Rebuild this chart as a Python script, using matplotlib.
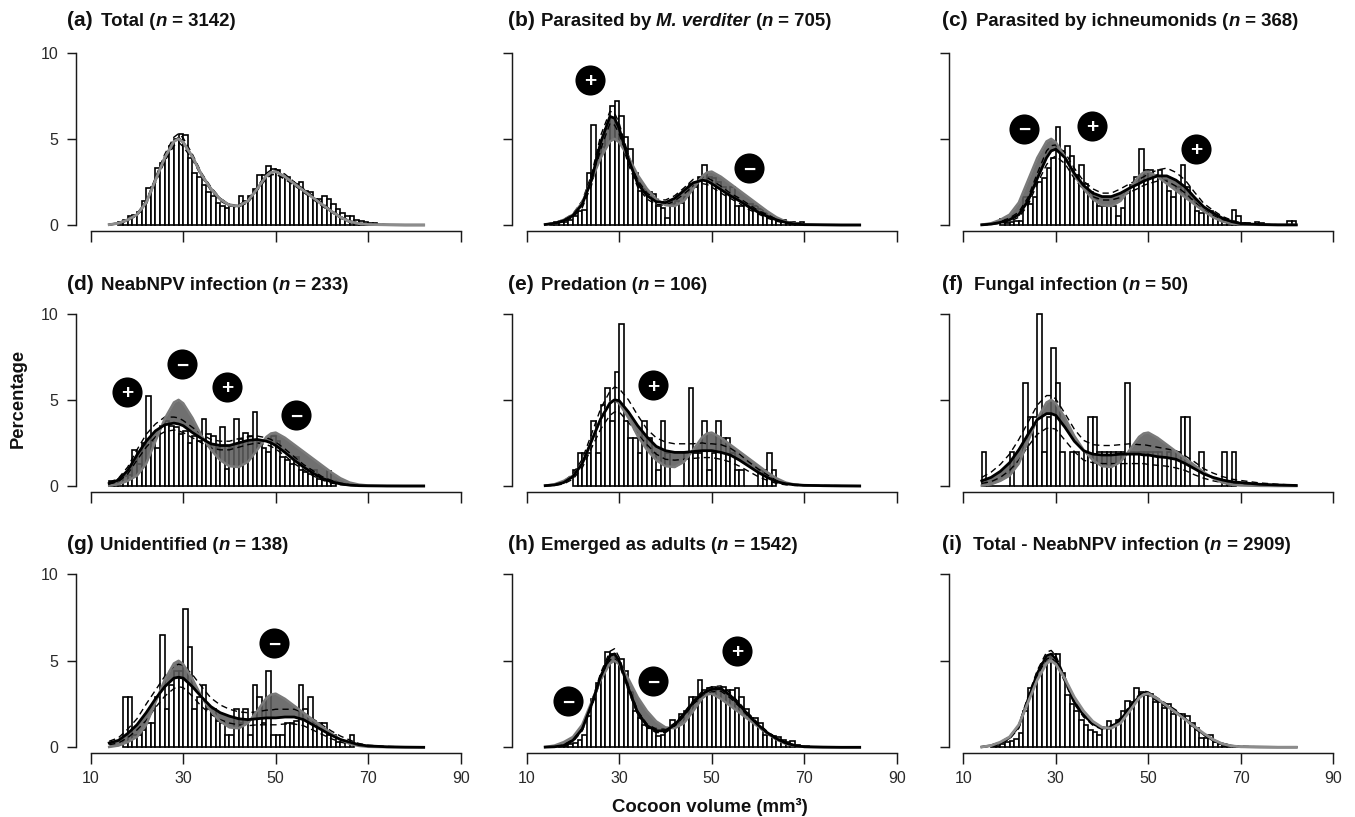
import numpy as np
import matplotlib
matplotlib.use("Agg")
import matplotlib.pyplot as plt

plt.rcParams['font.family'] = ['Liberation Sans', 'DejaVu Sans']

W, H = 1355, 817
volume_grid = [14,16,18,20,22,24,26,28,29,30,32,34,36,38,40,42,44,46,48,49,50,52,54,56,58,60,62,64,66,68,70,74,78,82]

total_curve = [.02,.1,.3,.6,1.3,2.6,3.9,4.85,5.0,4.8,3.95,2.9,2.1,1.5,1.15,1.1,1.4,2.1,2.85,3.05,3.1,2.8,2.4,2.0,1.6,1.2,.8,.45,.2,.08,.03,.01,0,0]

# histogram values: first bin's left edge, then heights of 1-mm3 bins
first_a = 16
hist_a = [.2,.3,.5,.6,.75,1.4,2.15,2.2,3.3,3.6,4.0,4.6,5.0,5.3,5.2,3.9,3.0,2.8,2.3,1.9,1.7,1.3,1.1,1.0,1.1,1.1,1.7,1.4,1.7,2.1,2.9,2.9,3.4,3.25,3.2,2.8,2.8,2.5,2.4,2.5,2.0,1.9,1.5,1.5,1.7,1.5,1.2,.9,.7,.5,.55,.3,.25,.15,.12,.1]
first_b = 15
hist_b = [.05,.15,.15,.15,.3,.55,.8,.85,3.0,5.8,3.8,4.5,5.6,6.9,7.2,6.3,5.1,4.4,3.0,2.0,2.1,1.9,1.8,1.1,1.0,.4,1.2,1.4,1.3,1.6,2.4,2.2,2.8,3.5,2.8,2.7,2.5,2.2,1.8,2.2,1.1,1.1,1.2,1.2,1.1,.9,.7,.55,.4,.3,.3,.15,.2,.1,.2]
first_c = 18
hist_c = [.35,.1,.15,.25,.25,1.6,1.2,1.6,2.5,2.7,3.3,3.9,5.7,4.3,4.6,4.0,2.9,3.5,2.4,1.9,1.5,1.1,1.1,1.1,1.1,.5,1.0,2.0,2.3,2.8,4.4,3.2,3.2,2.9,3.2,2.6,2.0,1.6,2.2,3.5,2.2,1.5,.8,.7,.8,.8,.5,.4,.2,.1,.85,.5,.1,.1,0,.15,.1,0,0,0,0,0,.25,.25]
first_d = 14
hist_d = [.3,.3,.4,.6,.65,2.1,1.3,2.5,5.2,2.6,2.2,3.5,3.8,3.5,3.4,3.0,3.2,2.5,2.9,2.6,3.9,3.0,2.9,2.2,3.4,1.0,2.2,3.9,2.7,3.1,2.9,4.3,2.5,2.2,2.0,2.9,2.6,1.7,1.5,1.3,1.7,.9,.8,.7,.9,.4,.4,.85,.3]
first_e = 20
hist_e = [.95,1.9,1.9,1.9,3.8,1.9,4.7,5.7,3.8,6.6,9.4,3.8,2.8,2.8,1.9,3.8,2.8,1.9,.95,3.8,1.9,0,0,0,1.9,5.7,1.9,1.9,3.8,.95,1.9,3.8,2.8,2.8,1.9,.95,.95,0,0,0,.95,.95,1.9,.95]
first_f = 14
hist_f = [2,0,0,0,0,0,2,0,0,6,4,4,10,2,4,8,6,2,0,2,2,0,2,4,4,2,2,2,2,2,2,6,2,2,2,2,2,2,2,0,2,0,2,4,4,0,0,2,0,0,0,0,2,0,2]
first_g = 17
hist_g = [2.9,2.9,.7,.7,1.0,1.4,1.4,2.9,6.5,2.2,3.6,4.4,4.4,8.0,5.8,2.2,2.9,3.6,2.2,2.2,1.5,1.4,.7,.7,2.2,1.4,2.2,.7,3.6,2.9,1.4,4.4,.7,.7,.7,1.4,1.4,1.5,3.6,2.2,2.9,1.4,1.4,1.4,.7,.7,.3,.3,0,.7]
first_h = 17
hist_h = [.05,.1,.2,.25,.4,.7,1.8,2.8,3.7,4.2,5.5,5.4,5.1,5.1,4.4,3.2,2.1,1.7,1.3,1.1,1.1,.65,.7,1.0,1.6,1.2,1.9,2.1,2.9,2.9,3.9,3.3,3.4,3.5,3.4,3.5,3.3,3.3,3.4,2.9,2.2,1.7,1.7,1.4,.7,.7,.65,.6,.4,.3,.35,.15,.1,.05]
first_i = 16
hist_i = [.05,.1,.2,.3,.35,.5,.8,2.1,3.4,3.6,4.2,4.9,5.2,5.4,5.4,4.3,3.0,2.5,2.1,1.6,1.3,1.0,.9,.7,1.1,1.5,1.3,1.6,2.1,2.7,2.6,3.4,3.2,3.0,3.1,2.6,2.6,2.3,2.5,1.9,1.9,1.9,1.8,1.4,1.1,.55,.55,.7,.3,.2,.1,.05,.03]

# fitted curves (mean, upper, lower)
a_mean = [.02,.1,.3,.6,1.3,2.6,3.9,4.85,5.05,4.8,3.95,2.9,2.1,1.5,1.15,1.1,1.4,2.1,2.85,3.05,3.1,2.8,2.4,2.0,1.6,1.2,.8,.45,.2,.08,.03,.01,0,0]
a_hi = [.03,.12,.35,.65,1.4,2.75,4.1,5.1,5.3,5.05,4.1,3.0,2.2,1.55,1.2,1.15,1.5,2.2,3.0,3.2,3.25,2.95,2.5,2.1,1.7,1.3,.85,.5,.25,.1,.05,.02,.01,.01]
a_lo = [.01,.08,.25,.55,1.2,2.45,3.7,4.6,4.8,4.55,3.8,2.8,2.0,1.4,1.1,1.05,1.3,2.0,2.7,2.9,2.95,2.65,2.3,1.9,1.5,1.1,.75,.4,.15,.06,.02,0,0,0]
b_mean = [.03,.1,.25,.55,1.2,2.6,4.8,6.3,6.2,5.6,3.8,2.4,1.7,1.35,1.3,1.55,2.0,2.45,2.6,2.55,2.4,2.05,1.7,1.4,1.05,.75,.5,.3,.15,.05,.02,.01,0,0]
b_hi = [.05,.13,.32,.65,1.4,2.9,5.2,6.6,6.5,5.9,4.05,2.6,1.85,1.5,1.45,1.7,2.15,2.65,2.8,2.75,2.6,2.25,1.85,1.55,1.2,.85,.6,.35,.18,.07,.03,.01,.01,0]
b_lo = [.01,.07,.18,.45,1.0,2.3,4.4,5.9,5.8,5.3,3.5,2.2,1.5,1.2,1.15,1.4,1.8,2.25,2.4,2.35,2.2,1.85,1.55,1.25,.9,.65,.4,.22,.1,.03,.01,0,0,0]
c_mean = [.01,.05,.15,.3,.6,1.4,2.7,3.9,4.3,4.4,3.9,3.0,2.3,1.85,1.65,1.65,1.85,2.15,2.4,2.55,2.65,2.85,2.85,2.6,2.2,1.6,1.05,.7,.4,.2,.08,.03,.01,.01]
c_hi = [.02,.08,.2,.4,.75,1.6,3.0,4.3,4.6,4.65,4.2,3.3,2.55,2.1,1.85,1.85,2.1,2.4,2.65,2.8,2.95,3.2,3.3,3.05,2.6,1.9,1.25,.85,.5,.28,.12,.05,.02,.02]
c_lo = [0,.03,.1,.2,.45,1.15,2.4,3.5,3.85,4.0,3.55,2.7,2.05,1.65,1.45,1.45,1.6,1.9,2.15,2.3,2.4,2.55,2.55,2.25,1.85,1.35,.85,.55,.3,.13,.05,.02,0,0]
d_mean = [.15,.35,.9,1.8,2.6,3.2,3.55,3.65,3.6,3.5,3.1,2.75,2.45,2.35,2.35,2.5,2.65,2.7,2.6,2.5,2.35,1.95,1.5,1.1,.75,.45,.25,.12,.05,.02,.01,0,0,0]
d_hi = [.2,.45,1.1,2.1,3.0,3.6,4.0,4.0,3.95,3.8,3.4,3.0,2.7,2.6,2.6,2.75,2.85,2.9,2.8,2.7,2.55,2.15,1.7,1.25,.9,.55,.33,.17,.08,.03,.01,0,0,0]
d_lo = [.1,.25,.7,1.5,2.25,2.85,3.15,3.25,3.2,3.1,2.8,2.5,2.2,2.1,2.1,2.25,2.4,2.5,2.4,2.3,2.15,1.75,1.3,.95,.6,.35,.17,.08,.03,.01,0,0,0,0]
e_mean = [.02,.06,.2,.55,1.3,2.6,3.9,4.8,5.0,4.95,4.3,3.5,2.85,2.3,2.05,1.95,1.95,2.0,2.05,2.05,2.05,1.95,1.8,1.5,1.15,.8,.5,.25,.13,.07,.04,.02,.01,0]
e_hi = [.04,.1,.28,.7,1.55,3.0,4.5,5.5,5.75,5.65,5.0,4.1,3.3,2.8,2.55,2.45,2.45,2.45,2.5,2.45,2.45,2.4,2.2,1.85,1.4,1.0,.65,.35,.2,.1,.06,.03,.02,.01]
e_lo = [.01,.03,.12,.4,1.05,2.2,3.3,4.1,4.3,4.3,3.7,3.0,2.4,1.85,1.55,1.5,1.55,1.6,1.65,1.65,1.65,1.55,1.4,1.15,.85,.55,.33,.15,.07,.03,.02,.01,0,0]
f_mean = [.3,.5,.85,1.35,2.1,3.0,3.85,4.2,4.2,4.1,3.4,2.6,2.05,1.85,1.8,1.8,1.85,1.85,1.85,1.8,1.8,1.7,1.65,1.55,1.3,1.0,.7,.5,.35,.25,.2,.1,.06,.03]
f_hi = [.5,.8,1.25,1.85,2.7,3.7,4.7,5.25,5.25,5.05,4.2,3.3,2.65,2.4,2.35,2.35,2.4,2.45,2.4,2.4,2.35,2.25,2.15,2.05,1.75,1.4,1.0,.75,.55,.4,.32,.18,.1,.05]
f_lo = [.15,.25,.5,.9,1.5,2.3,3.0,3.35,3.35,3.3,2.65,2.0,1.5,1.35,1.3,1.3,1.3,1.3,1.3,1.3,1.25,1.2,1.15,1.05,.9,.65,.45,.3,.2,.13,.1,.05,.03,.01]
g_mean = [.25,.4,.8,1.3,2.0,2.8,3.5,4.0,4.05,4.0,3.5,2.9,2.35,2.0,1.8,1.65,1.6,1.65,1.7,1.7,1.7,1.75,1.75,1.6,1.3,1.0,.7,.45,.3,.15,.08,.03,.01,0]
g_hi = [.35,.55,1.05,1.65,2.5,3.3,4.1,4.7,4.8,4.75,4.2,3.5,2.85,2.45,2.2,2.05,2.0,2.05,2.15,2.15,2.2,2.2,2.2,2.0,1.65,1.3,.95,.65,.42,.22,.12,.05,.02,.01]
g_lo = [.15,.25,.55,1.0,1.55,2.3,2.95,3.4,3.5,3.45,2.95,2.35,1.9,1.6,1.4,1.3,1.25,1.3,1.3,1.3,1.3,1.35,1.35,1.25,1.0,.75,.5,.3,.18,.08,.04,.01,0,0]
h_mean = [.01,.03,.1,.4,1.05,2.45,4.1,5.3,5.4,5.0,3.4,2.0,1.25,.95,.95,1.3,1.9,2.6,3.1,3.25,3.35,3.4,3.0,2.45,1.85,1.3,.85,.5,.25,.1,.03,.01,0,0]
h_hi = [.02,.05,.14,.45,1.15,2.6,4.3,5.55,5.7,5.2,3.55,2.1,1.35,1.05,1.05,1.4,2.0,2.7,3.25,3.4,3.5,3.55,3.15,2.55,1.95,1.4,.92,.55,.3,.13,.05,.02,0,0]
h_lo = [0,.02,.07,.32,.95,2.3,3.9,5.05,5.15,4.8,3.25,1.9,1.15,.85,.85,1.2,1.8,2.5,2.95,3.1,3.2,3.25,2.85,2.35,1.75,1.2,.78,.45,.2,.07,.02,0,0,0]
i_mean = [.02,.1,.25,.55,1.2,2.8,4.3,5.3,5.4,5.1,3.9,2.6,1.85,1.35,1.1,1.15,1.6,2.3,2.95,3.15,3.1,2.75,2.4,2.05,1.65,1.15,.75,.4,.2,.08,.03,.02,.01,.01]
i_hi = [.03,.13,.3,.62,1.3,2.95,4.45,5.5,5.6,5.3,4.05,2.7,1.95,1.42,1.17,1.22,1.7,2.4,3.05,3.25,3.2,2.85,2.5,2.15,1.72,1.22,.8,.45,.24,.1,.05,.03,.02,.02]
i_lo = [.01,.07,.2,.48,1.1,2.65,4.15,5.1,5.2,4.9,3.75,2.5,1.75,1.28,1.03,1.08,1.5,2.2,2.85,3.05,3.0,2.65,2.3,1.95,1.58,1.08,.7,.35,.16,.06,.01,.01,0,0]

panel_tags = ['(a)','(b)','(c)','(d)','(e)','(f)','(g)','(h)','(i)']
panel_titles = [
    [('Total (','normal'),('n','italic'),(' = 3142)','normal')],
    [('Parasited by ','normal'),('M. verditer','italic'),(' (','normal'),('n','italic'),(' = 705)','normal')],
    [('Parasited by ichneumonids (','normal'),('n','italic'),(' = 368)','normal')],
    [('NeabNPV infection (','normal'),('n','italic'),(' = 233)','normal')],
    [('Predation (','normal'),('n','italic'),(' = 106)','normal')],
    [('Fungal infection (','normal'),('n','italic'),(' = 50)','normal')],
    [('Unidentified (','normal'),('n','italic'),(' = 138)','normal')],
    [('Emerged as adults (','normal'),('n','italic'),(' = 1542)','normal')],
    [('Total - NeabNPV infection (','normal'),('n','italic'),(' = 2909)','normal')],
]
first_bins = [first_a,first_b,first_c,first_d,first_e,first_f,first_g,first_h,first_i]
hists = [hist_a,hist_b,hist_c,hist_d,hist_e,hist_f,hist_g,hist_h,hist_i]
means = [a_mean,b_mean,c_mean,d_mean,e_mean,f_mean,g_mean,h_mean,i_mean]
highs = [a_hi,b_hi,c_hi,d_hi,e_hi,f_hi,g_hi,h_hi,i_hi]
lows = [a_lo,b_lo,c_lo,d_lo,e_lo,f_lo,g_lo,h_lo,i_lo]

# selection-direction badges: (volume, percentage, sign)
badges = [
    [],
    [(23.7,8.43,'+'),(58.1,3.31,'\u2212')],
    [(23.1,5.58,'\u2212'),(37.8,5.76,'+'),(60.3,4.42,'+')],
    [(17.8,5.46,'+'),(29.7,7.08,'\u2212'),(39.5,5.75,'+'),(54.4,4.12,'\u2212')],
    [(37.3,5.86,'+')],
    [],
    [(49.6,6.03,'\u2212')],
    [(18.9,2.68,'\u2212'),(37.3,3.83,'\u2212'),(55.5,5.57,'+')],
    [],
]

col_x10 = [90.7, 526.7, 963.3]
col_x90 = [460.7, 896.7, 1333.3]
row_y0 = [225.0, 486.0, 747.3]
row_y10 = [52.7, 313.7, 574.3]
tag_x = [67, 507.7, 942]
title_x = [[101,541,976],[101,541,974],[100,541,973]]
title_y = [20, 284, 544]

DPI = 100
fig = plt.figure(figsize=(W/DPI, H/DPI), dpi=DPI, facecolor='white')
INK = '#1a1a1a'
renderer = fig.canvas.get_renderer()

for idx in range(9):
    r, c = idx // 3, idx % 3
    ax = fig.add_axes([col_x10[c]/W, 1-row_y0[r]/H, (col_x90[c]-col_x10[c])/W, (row_y0[r]-row_y10[r])/H])
    ax.set_xlim(10, 90); ax.set_ylim(0, 10)
    ax.patch.set_alpha(0)
    for s in ('top','right'):
        ax.spines[s].set_visible(False)
    for s in ('left','bottom'):
        ax.spines[s].set_linewidth(1.05)
        ax.spines[s].set_color(INK)
    ax.spines['left'].set_position(('outward', 10.4))
    ax.spines['bottom'].set_position(('outward', 4.0))
    ax.set_xticks([10,30,50,70,90]); ax.set_yticks([0,5,10])
    ax.tick_params(axis='x', length=7.8, width=1.05, color=INK, pad=5.5, labelsize=11.5,
                   labelbottom=(r==2), labelcolor='#2a2a2a')
    ax.tick_params(axis='y', length=6.5, width=1.05, color=INK, pad=6.5, labelsize=11.5,
                   labelleft=(c==0), labelcolor='#2a2a2a')

    h = np.array(hists[idx], dtype=float)
    edges = first_bins[idx] + np.arange(len(h))
    ax.bar(edges, h, width=1.0, align='edge', facecolor='white', edgecolor='black', linewidth=1.2, zorder=2, clip_on=False)

    m, hi, lo = means[idx], highs[idx], lows[idx]
    ax.fill_between(volume_grid, total_curve, m, color='#5c5c5c', alpha=0.88, linewidth=0, zorder=3)
    for curve in (hi, lo):
        ax.plot(volume_grid, curve, color='black', lw=1.0, ls=(0,(4.5,3)), zorder=4, clip_on=False)
    if idx in (0, 8):
        ax.plot(volume_grid, m, color='black', lw=1.7, zorder=5, solid_joinstyle='round', clip_on=False)
        ax.plot(volume_grid, total_curve, color='#8c8c8c', lw=2.0, zorder=6, solid_joinstyle='round', clip_on=False)
    else:
        ax.plot(volume_grid, total_curve, color='#7a7a7a', lw=1.8, zorder=5, solid_joinstyle='round', clip_on=False)
        ax.plot(volume_grid, m, color='black', lw=2.0, zorder=6, solid_joinstyle='round', clip_on=False)

    for bx, by, sign in badges[idx]:
        ax.scatter([bx],[by], s=470, color='black', zorder=8, linewidths=0, clip_on=False)
        ax.text(bx, by, sign, color='white', fontsize=15, fontweight='bold', ha='center', va='center_baseline', zorder=9)

    # title built of runs so that n and species name stay italic
    fig.text(tag_x[c]/W, 1-title_y[r]/H, panel_tags[idx], fontsize=15, fontweight='bold', va='center', ha='left', color='#111111')
    x = title_x[r][c]
    for run, style in panel_titles[idx]:
        t = fig.text(x/W, 1-(title_y[r]+1)/H, run, fontsize=13.4, fontweight='bold', fontstyle=style, va='center', ha='left', color='#111111')
        t.set_text(run.replace(' ', '\u00a0'))
        x = t.get_window_extent(renderer).x1

fig.text(18/W, 1-398/H, 'Percentage', rotation=90, fontsize=13.2, fontweight='bold', ha='center', va='center', color='#111111')
fig.text(710/W, 1-807/H, 'Cocoon volume (mm\u00b3)', fontsize=13.4, fontweight='bold', ha='center', va='center', color='#111111')

fig.savefig('out.png', dpi=DPI, facecolor='white')
